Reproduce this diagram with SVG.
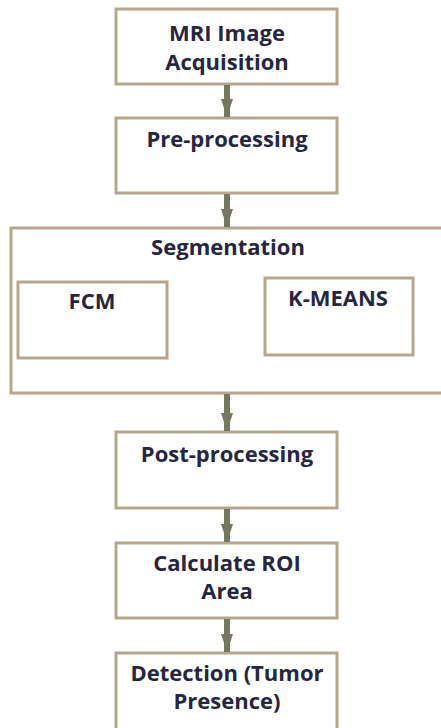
<svg xmlns="http://www.w3.org/2000/svg" width="441" height="728" viewBox="0 0 441 728">
<style>
.box{fill:#fff;stroke:#b5a68c;stroke-width:3}
.t{font-family:"Open Sans","Liberation Sans",sans-serif;font-weight:700;font-size:22px;fill:#262640;text-anchor:middle}
.c{stroke:#777760;stroke-width:6;fill:none}
</style>
<defs>
<marker id="ah" markerWidth="3" markerHeight="2" refX="3" refY="1" orient="auto" markerUnits="strokeWidth">
<path d="M0,0 L3,1 L0,2 Z" fill="#777760"/>
</marker>
</defs>
<rect width="441" height="728" fill="#fff"/>
<g id="n1"><rect class="box" x="116" y="9" width="221" height="75"/><text class="t" x="227" y="41">MRI Image</text><text class="t" x="227" y="70">Acquisition</text></g>
<g id="n2"><rect class="box" x="116" y="118" width="221" height="75"/><text class="t" x="227" y="147">Pre-processing</text></g>
<g id="n3"><rect class="box" x="11" y="228" width="440" height="165"/><text class="t" x="228" y="255">Segmentation</text></g>
<g id="n4"><rect class="box" x="18" y="282" width="149" height="76"/><text class="t" x="92" y="309">FCM</text></g>
<g id="n5"><rect class="box" x="265" y="278" width="148" height="77"/><text class="t" x="338" y="306">K-MEANS</text></g>
<g id="n6"><rect class="box" x="116" y="432" width="221" height="76"/><text class="t" x="227" y="462">Post-processing</text></g>
<g id="n7"><rect class="box" x="116" y="543" width="221" height="75"/><text class="t" x="227" y="571">Calculate ROI</text><text class="t" x="227" y="599">Area</text></g>
<g id="n8"><rect class="box" x="116" y="653" width="221" height="90"/><text class="t" x="227" y="681">Detection (Tumor</text><text class="t" x="227" y="709">Presence)</text></g>
<g id="connectors">
<path class="c" d="M227,85 V117" marker-end="url(#ah)"/>
<path class="c" d="M227,194 V227" marker-end="url(#ah)"/>
<path class="c" d="M227,394 V431" marker-end="url(#ah)"/>
<path class="c" d="M227,509 V542" marker-end="url(#ah)"/>
<path class="c" d="M227,619 V652" marker-end="url(#ah)"/>
</g>
</svg>
